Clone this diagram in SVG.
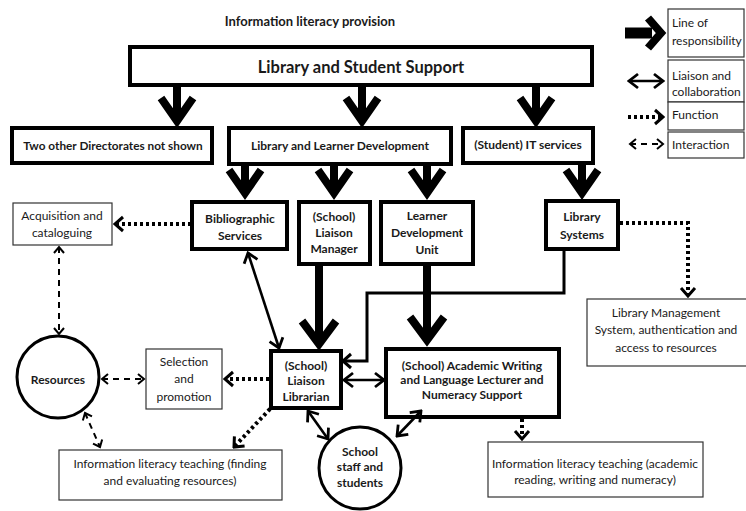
<svg xmlns="http://www.w3.org/2000/svg" width="746" height="511" viewBox="0 0 746 511">
<defs>
<style>
text{font-family:Lato,"Open Sans","Liberation Sans",sans-serif;fill:#1a1a1a;text-anchor:middle;dominant-baseline:central}
.b{font-weight:bold}
.n{font-weight:bold;font-size:12px}
.r{font-size:12px}
.thick{fill:#fff;stroke:#000;stroke-width:4}
.thin{fill:#fff;stroke:#333;stroke-width:1.2}
.resp{stroke:#000;stroke-width:8;fill:none;stroke-linejoin:miter;stroke-miterlimit:10}
.liaison{stroke:#000;stroke-width:2.6;fill:none}
.func{stroke:#000;stroke-width:4;fill:none;stroke-dasharray:3 3}
.inter{stroke:#000;stroke-width:2;fill:none;stroke-dasharray:6 5}
.lg{text-anchor:start;font-size:12px}
</style>
<marker id="ha" viewBox="-12 -10 14 20" refX="0" refY="0" markerWidth="14" markerHeight="20" markerUnits="userSpaceOnUse" orient="auto-start-reverse">
<path d="M-9,-7 L0,0 L-9,7" fill="none" stroke="#000" stroke-width="2.8"/>
</marker>
<marker id="hf" viewBox="-12 -10 14 20" refX="0" refY="0" markerWidth="14" markerHeight="20" markerUnits="userSpaceOnUse" orient="auto-start-reverse">
<path d="M-8,-7 L0,0 L-8,7" fill="none" stroke="#000" stroke-width="3"/>
</marker>
<marker id="hi" viewBox="-10 -8 12 16" refX="0" refY="0" markerWidth="12" markerHeight="16" markerUnits="userSpaceOnUse" orient="auto-start-reverse">
<path d="M-6,-5 L0,0 L-6,5" fill="none" stroke="#000" stroke-width="2"/>
</marker>
</defs>

<text class="b" x="310" y="21" font-size="13">Information literacy provision</text>

<g id="lss"><rect class="thick" x="130" y="47" width="462" height="38"/><text class="b" x="361" y="67" font-size="16.5">Library and Student Support</text></g>
<g id="other"><rect class="thick" x="12" y="128" width="200" height="35"/><text class="n" x="113" y="145" font-size="11.5" style="font-size:11.8px">Two other Directorates not shown</text></g>
<g id="lld"><rect class="thick" x="229" y="128" width="222" height="36"/><text class="n" x="340" y="145">Library and Learner Development</text></g>
<g id="it"><rect class="thick" x="463" y="128" width="130" height="35"/><text class="n" x="528" y="144">(Student) IT services</text></g>
<g id="bib"><rect class="thick" x="192" y="202" width="95" height="47"/><text class="n" x="240" y="218">Bibliographic</text><text class="n" x="240" y="235">Services</text></g>
<g id="lm"><rect class="thick" x="299" y="202" width="71" height="62"/><text class="n" x="334" y="216">(School)</text><text class="n" x="334" y="232">Liaison</text><text class="n" x="334" y="248">Manager</text></g>
<g id="ldu"><rect class="thick" x="381" y="202" width="92" height="62"/><text class="n" x="427" y="215">Learner</text><text class="n" x="427" y="232">Development</text><text class="n" x="427" y="249">Unit</text></g>
<g id="ls"><rect class="thick" x="546" y="201" width="72" height="48"/><text class="n" x="582" y="216">Library</text><text class="n" x="582" y="234">Systems</text></g>
<g id="acq"><rect class="thin" x="13" y="203" width="99" height="42"/><text class="r" x="62" y="215">Acquisition and</text><text class="r" x="62" y="232">cataloguing</text></g>
<g id="lms"><rect class="thin" x="587" y="299" width="160" height="67"/><text class="r" x="666" y="312">Library Management</text><text class="r" x="666" y="329">System, authentication and</text><text class="r" x="666" y="347">access to resources</text></g>
<g id="res"><circle cx="58" cy="377" r="41" fill="#fff" stroke="#000" stroke-width="3"/><text class="n" x="58" y="379">Resources</text></g>
<g id="sel"><rect class="thin" x="146" y="349" width="76" height="60"/><text class="r" x="184" y="361">Selection</text><text class="r" x="184" y="378">and</text><text class="r" x="184" y="396">promotion</text></g>
<g id="llib"><rect class="thick" x="271" y="351" width="70" height="57"/><text class="n" x="306" y="365">(School)</text><text class="n" x="306" y="380">Liaison</text><text class="n" x="306" y="396">Librarian</text></g>
<g id="awl"><rect class="thick" x="386" y="349" width="173" height="68"/><text class="n" x="472" y="365">(School) Academic Writing</text><text class="n" x="472" y="379">and Language Lecturer and</text><text class="n" x="472" y="394">Numeracy Support</text></g>
<g id="staff"><circle cx="360" cy="468" r="41" fill="#fff" stroke="#000" stroke-width="3"/><text class="n" x="360" y="451">School</text><text class="n" x="360" y="466">staff and</text><text class="n" x="360" y="482">students</text></g>
<g id="ilf"><rect class="thin" x="59" y="450" width="223" height="50"/><text class="r" x="170" y="463">Information literacy teaching (finding</text><text class="r" x="170" y="480">and evaluating resources)</text></g>
<g id="ila"><rect class="thin" x="488" y="442" width="215" height="55"/><text class="r" x="595" y="463">Information literacy teaching (academic</text><text class="r" x="595" y="479">reading, writing and numeracy)</text></g>

<g id="legend">
<rect class="thin" x="668" y="9" width="76" height="48"/><text class="lg" x="672" y="22">Line of</text><text class="lg" x="672" y="40">responsibility</text>
<rect class="thin" x="668" y="60" width="76" height="42"/><text class="lg" x="672" y="75">Liaison and</text><text class="lg" x="672" y="91">collaboration</text>
<rect class="thin" x="668" y="102" width="76" height="28"/><text class="lg" x="672" y="114">Function</text>
<rect class="thin" x="668" y="132" width="76" height="26"/><text class="lg" x="672" y="144">Interaction</text>
<line x1="625" y1="33" x2="652" y2="33" stroke="#000" stroke-width="11"/>
<polyline class="resp" points="648,18 661,33 648,48" stroke-width="9"/>
<line class="liaison" x1="629" y1="81" x2="663" y2="81" marker-start="url(#ha)" marker-end="url(#ha)" stroke-width="3"/>
<line class="func" x1="628" y1="117" x2="663" y2="117" marker-end="url(#hf)"/>
<line class="inter" x1="630" y1="144" x2="663" y2="144" marker-start="url(#hi)" marker-end="url(#hi)"/>
</g>

<g id="connectors">
<g id="responsibility">
<path class="resp" d="M177,85V118M161,98L177,121L193,98"/>
<path class="resp" d="M362,85V118M346,98L362,121L378,98"/>
<path class="resp" d="M536,85V118M520,98L536,121L552,98"/>
<path class="resp" d="M245,164V190M229,170L245,193L261,170"/>
<path class="resp" d="M334,164V190M318,170L334,193L350,170"/>
<path class="resp" d="M427,164V190M411,170L427,193L443,170"/>
<path class="resp" d="M582,163V190M566,170L582,193L598,170"/>
<path class="resp" d="M319,264V340M302,321L319,344L336,321"/>
<path class="resp" d="M427,264V336M410,317L427,340L444,317"/>
</g>
<polyline points="564,249 564,293 367,293 367,361 343,361" fill="none" stroke="#000" stroke-width="3" marker-end="url(#hf)"/>
<line class="liaison" x1="248" y1="253" x2="279" y2="348" marker-start="url(#ha)" marker-end="url(#ha)"/>
<line class="liaison" x1="344" y1="380" x2="384" y2="380" marker-start="url(#ha)" marker-end="url(#ha)"/>
<line class="liaison" x1="308" y1="411" x2="328" y2="439" marker-start="url(#ha)" marker-end="url(#ha)"/>
<line class="liaison" x1="421" y1="411" x2="397" y2="436" marker-start="url(#ha)" marker-end="url(#ha)"/>
<line class="func" x1="191" y1="224" x2="115" y2="224" marker-end="url(#hf)"/>
<polyline class="func" points="620,223 688,223 688,296" marker-end="url(#hf)"/>
<line class="func" x1="269" y1="379" x2="225" y2="379" marker-end="url(#hf)"/>
<line class="func" x1="270" y1="409" x2="234" y2="447" marker-end="url(#hf)"/>
<line class="func" x1="522" y1="419" x2="522" y2="439" marker-end="url(#hf)"/>
<line class="inter" x1="59" y1="247" x2="59" y2="334" marker-start="url(#hi)" marker-end="url(#hi)"/>
<line class="inter" x1="102" y1="379" x2="144" y2="379" marker-start="url(#hi)" marker-end="url(#hi)"/>
<line class="inter" x1="85" y1="413" x2="100" y2="447" marker-start="url(#hi)" marker-end="url(#hi)"/>
</g>
</svg>
